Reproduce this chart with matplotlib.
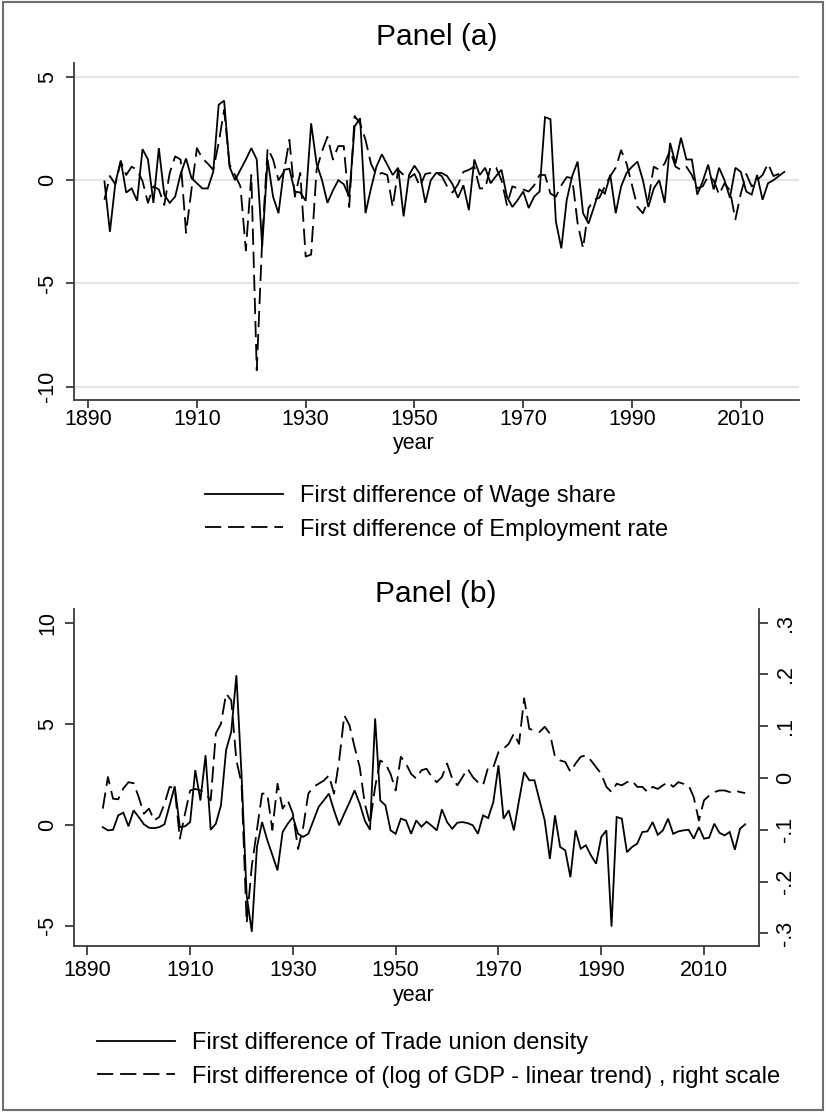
import matplotlib
matplotlib.use("Agg")
import matplotlib.pyplot as plt
from matplotlib.lines import Line2D
from matplotlib.patches import Rectangle
from matplotlib.ticker import FixedLocator, FuncFormatter

plt.rcParams['font.family'] = ['Liberation Sans', 'DejaVu Sans']
plt.rcParams['axes.unicode_minus'] = False

# ---------------- data ----------------
years = list(range(1893, 2019))

wage_share = [
    -0.06, -2.5, -0.15, 0.95, -0.6, -0.4, -1.0, 1.5, 1.0, -1.1,
    1.55, -0.7, -1.1, -0.8, 0.3, 1.05, 0.1, -0.15, -0.4, -0.4,
    0.4, 3.65, 3.85, 0.65, 0.0, 0.5, 1.0, 1.55, 1.0, -3.2,
    1.0, -0.8, -1.6, 0.5, 0.55, -0.55, -0.6, -1.0, 2.75, 0.8,
    0.0, -1.1, -0.5, 0.0, -0.2, -0.8, 2.6, 3.0, -1.6, -0.4,
    0.65, 1.25, 0.75, 0.25, 0.6, -1.75, 0.25, 0.7, 0.3, -1.1,
    0.0, 0.35, 0.35, 0.2, -0.2, -0.85, -0.25, -1.45, 1.0, 0.25,
    0.6, -0.15, 0.2, 0.5, -0.8, -1.3, -0.95, -0.55, -1.35, -0.8,
    -0.55, 3.05, 2.95, -2.0, -3.3, -0.95, 0.2, 0.9, -1.6, -2.1,
    -1.3, -0.45, -0.65, 0.25, -1.6, -0.3, 0.35, 0.65, 0.9, 0.0,
    -1.3, -0.4, 0.0, -1.1, 1.8, 0.8, 2.05, 1.0, 1.0, -0.7,
    -0.05, 0.75, -0.45, 0.6, 0.0, -0.85, 0.6, 0.4, -0.55, -0.7,
    0.25, -0.95, -0.15, 0.0, 0.2, 0.4,
]

employment_rate = [
    -0.95, 0.2, -0.2, 0.9, 0.25, 0.65, 0.5, -0.05, -1.1, -0.3,
    -0.45, -1.2, 0.35, 1.15, 1.0, -2.55, -0.45, 1.55, 1.05, 0.8,
    0.5, 1.8, 3.4, 0.75, 0.25, -0.3, -3.4, 0.25, -9.2, -2.9,
    1.55, 1.0, 0.0, 0.4, 1.95, -0.8, 0.35, -3.7, -3.6, 0.5,
    1.4, 2.1, 1.0, 1.65, 1.65, -1.3, 3.1, 2.75, 1.95, 0.8,
    0.25, 0.35, 0.25, -1.3, 0.5, 0.25, 0.1, 0.3, -0.3, 0.3,
    0.35, 0.35, 0.2, -0.3, -0.6, -0.2, 0.4, 0.5, 0.65, -0.4,
    -0.4, 0.65, 0.6, 0.0, -1.2, -0.3, -0.4, -0.45, -0.55, -0.25,
    0.25, 0.25, -0.65, -0.8, -0.25, 0.15, 0.1, -2.1, -3.3, -1.35,
    -0.95, -0.85, -0.3, 0.2, 0.6, 1.45, 0.8, -0.25, -1.3, -1.6,
    -0.95, 0.65, 0.5, 0.8, 1.45, 0.65, 0.5, 0.65, 0.25, -0.4,
    -0.3, 0.2, 0.0, -0.7, -0.15, -0.5, -1.9, -0.65, 0.3, -0.3,
    0.0, 0.25, 0.8, 0.2, 0.3, 0.45,
]

union_density = [
    -0.12, -0.28, -0.25, 0.46, 0.6, -0.08, 0.71, 0.38, 0.02, -0.15,
    -0.17, -0.12, 0.02, 0.96, 1.9, -0.12, -0.08, 0.13, 2.7, 1.2,
    3.44, -0.25, 0.05, 0.96, 3.7, 4.6, 7.4, 2.5, -3.5, -5.3,
    -1.1, 0.13, -0.75, -1.5, -2.26, -0.36, 0.05, 0.38, -0.45, -0.6,
    -0.45, 0.21, 0.88, 1.2, 1.54, 0.71, -0.03, 0.55, 1.1, 1.7,
    1.04, 0.2, -0.25, 5.26, 1.2, 0.96, -0.28, -0.45, 0.3, 0.21,
    -0.45, 0.21, -0.1, 0.15, -0.05, -0.28, 0.76, 0.13, -0.2, 0.1,
    0.13, 0.08, -0.03, -0.45, 0.46, 0.33, 1.12, 2.94, 0.3, 0.71,
    -0.28, 1.2, 2.6, 2.2, 2.2, 1.2, 0.21, -1.69, 0.46, -1.1,
    -1.27, -2.6, -0.28, -1.19, -1.02, -1.52, -1.93, -0.61, -0.28, -5.04,
    0.38, 0.3, -1.36, -1.1, -0.94, -0.36, -0.33, 0.13, -0.5, -0.28,
    0.3, -0.45, -0.33, -0.28, -0.25, -0.69, -0.12, -0.69, -0.64, 0.05,
    -0.4, -0.53, -0.36, -1.24, -0.2, 0.02,
]

gdp_gap = [
    -0.059, 0.002, -0.04, -0.041, -0.02, -0.008, -0.01, -0.037, -0.069, -0.059,
    -0.082, -0.075, -0.05, -0.017, -0.02, -0.117, -0.069, -0.024, -0.021, -0.024,
    -0.03, -0.043, 0.086, 0.105, 0.163, 0.15, 0.034, -0.01, -0.28, -0.17,
    -0.1, -0.03, -0.03, -0.1, -0.011, -0.059, -0.043, -0.069, -0.137, -0.095,
    -0.03, -0.017, -0.011, -0.005, 0.005, -0.03, 0.034, 0.121, 0.102, 0.06,
    0.021, -0.05, -0.088, -0.017, 0.034, 0.028, 0.008, -0.024, 0.041, 0.028,
    0.008, -0.001, 0.015, 0.018, 0.002, -0.008, 0.002, 0.028, -0.001, -0.014,
    0.002, 0.018, 0.002, -0.008, -0.014, 0.021, 0.021, 0.05, 0.057, 0.066,
    0.086, 0.066, 0.154, 0.095, 0.092, 0.089, 0.099, 0.086, 0.041, 0.034,
    0.031, 0.012, 0.028, 0.041, 0.044, 0.034, 0.021, 0.008, -0.017, -0.027,
    -0.011, -0.014, -0.008, -0.005, -0.017, -0.017, -0.027, -0.017, -0.021, -0.014,
    -0.008, -0.017, -0.008, -0.011, -0.014, -0.037, -0.082, -0.043, -0.034, -0.027,
    -0.024, -0.024, -0.027, -0.024, -0.027, -0.029,
]

x_ticks = [1890, 1910, 1930, 1950, 1970, 1990, 2010]
a_yticks = [-10, -5, 0, 5]
b_left_ticks = [-5, 0, 5, 10]
b_right_ticks = [-0.3, -0.2, -0.1, 0.0, 0.1, 0.2, 0.3]
b_grid = [-0.3, -0.2, -0.1, 0.0, 0.1, 0.2]

label_a1 = "First difference of Wage share"
label_a2 = "First difference of Employment rate"
label_b1 = "First difference of Trade union density"
label_b2 = "First difference of (log of GDP - linear trend) , right scale"

# ---------------- style ----------------
W, H = 826, 1112
fig = plt.figure(figsize=(W / 100, H / 100), dpi=100)
fig.patch.set_facecolor("white")

AX_COL = "#3a3a3a"
GRID_COL = "#e4e4e4"
LW = 1.3
DASH = (9, 3.8)
TICK_FS = 15.5
LEG_FS = 17
TITLE_FS = 21.5


def fx(px):
    return px / W


def fy(py):
    return 1 - py / H


def style_axis(ax, sides, ticklen):
    for s in ["top", "right", "left", "bottom"]:
        ax.spines[s].set_visible(s in sides)
        ax.spines[s].set_color(AX_COL)
        ax.spines[s].set_linewidth(1.3)
    ax.tick_params(direction="out", length=ticklen, width=1.3, color=AX_COL,
                   labelsize=TICK_FS, labelcolor="black")


def int_fmt(v, pos):
    return "%d" % round(v)


def dec_fmt(v, pos):
    if abs(v) < 1e-9:
        return "0"
    s = ("%.1f" % v)
    return s.replace("0.", ".")


# ---------------- Panel (a) ----------------
axa = fig.add_axes([fx(74), fy(400), fx(799) - fx(74), fy(63) - fy(400)])
style_axis(axa, ["left", "bottom"], 5.5)
axa.plot(years, wage_share, color="black", lw=LW, solid_joinstyle="miter")
axa.plot(years, employment_rate, color="black", lw=LW, linestyle=(0, DASH))
axa.set_xlim(1887.4, 2020.7)
axa.set_ylim(-10.64, 5.67)
axa.xaxis.set_major_locator(FixedLocator(x_ticks))
axa.yaxis.set_major_locator(FixedLocator(a_yticks))
axa.yaxis.set_major_formatter(FuncFormatter(int_fmt))
axa.yaxis.grid(True, color=GRID_COL, lw=1.5)
axa.set_axisbelow(True)
axa.tick_params(axis="y", labelrotation=90, pad=6)
axa.tick_params(axis="x", pad=1)
for lbl in axa.get_yticklabels():
    lbl.set_va("center")
fig.text(fx(414), fy(443), "year", ha="center", va="center", fontsize=TICK_FS)
fig.text(fx(437), fy(37), "Panel (a)", ha="center", va="center", fontsize=TITLE_FS)

handles_a = [Line2D([], [], color="black", lw=LW),
             Line2D([], [], color="black", lw=LW, linestyle=(0, DASH))]
fig.legend(handles_a, [label_a1, label_a2], loc="center left",
           bbox_to_anchor=(fx(205), fy(513)), frameon=False, fontsize=LEG_FS,
           handlelength=3.3, handletextpad=0.72, labelspacing=0.47,
           borderpad=0, borderaxespad=0)

# ---------------- Panel (b) ----------------
axb = fig.add_axes([fx(74), fy(945.7), fx(759) - fx(74), fy(609) - fy(945.7)])
axr = axb.twinx()
axb.set_zorder(axr.get_zorder() + 1)
axb.patch.set_visible(False)
style_axis(axb, ["left", "bottom"], 6.5)
style_axis(axr, ["right"], 6.5)

axr.plot(years, gdp_gap, color="black", lw=LW, linestyle=(0, DASH))
axb.plot(years, union_density, color="black", lw=LW, solid_joinstyle="miter")

axb.set_xlim(1887.4, 2020.7)
axb.set_ylim(-5.99, 10.68)
axr.set_ylim(-0.3238, 0.3265)
axb.xaxis.set_major_locator(FixedLocator(x_ticks))
axb.yaxis.set_major_locator(FixedLocator(b_left_ticks))
axb.yaxis.set_major_formatter(FuncFormatter(int_fmt))
axr.yaxis.set_major_locator(FixedLocator(b_right_ticks))
axr.yaxis.set_major_formatter(FuncFormatter(dec_fmt))
axr.yaxis.set_minor_locator(FixedLocator(b_grid))
axr.yaxis.grid(True, which="minor", color=GRID_COL, lw=1.5)
axr.yaxis.grid(False, which="major")
axr.tick_params(axis="y", which="minor", length=0)
axb.tick_params(axis="y", labelrotation=90, pad=5)
axr.tick_params(axis="y", which="major", labelrotation=90, pad=5)
axb.tick_params(axis="x", pad=4)
for lbl in axb.get_yticklabels():
    lbl.set_va("center")
for lbl in axr.get_yticklabels():
    lbl.set_va("center")
fig.text(fx(414), fy(995), "year", ha="center", va="center", fontsize=TICK_FS)
fig.text(fx(436), fy(594), "Panel (b)", ha="center", va="center", fontsize=TITLE_FS)

handles_b = [Line2D([], [], color="black", lw=LW),
             Line2D([], [], color="black", lw=LW, linestyle=(0, DASH))]
fig.legend(handles_b, [label_b1, label_b2], loc="center left",
           bbox_to_anchor=(fx(97), fy(1060)), frameon=False, fontsize=LEG_FS,
           handlelength=3.3, handletextpad=0.72, labelspacing=0.47,
           borderpad=0, borderaxespad=0)

# outer frame
fig.patches.append(Rectangle((fx(3), fy(H - 2)), fx(W - 6), fy(2) - fy(H - 2),
                             transform=fig.transFigure, fill=False,
                             edgecolor="#6e6e6e", lw=1.5))

fig.savefig("out.png", dpi=100, facecolor="white")
